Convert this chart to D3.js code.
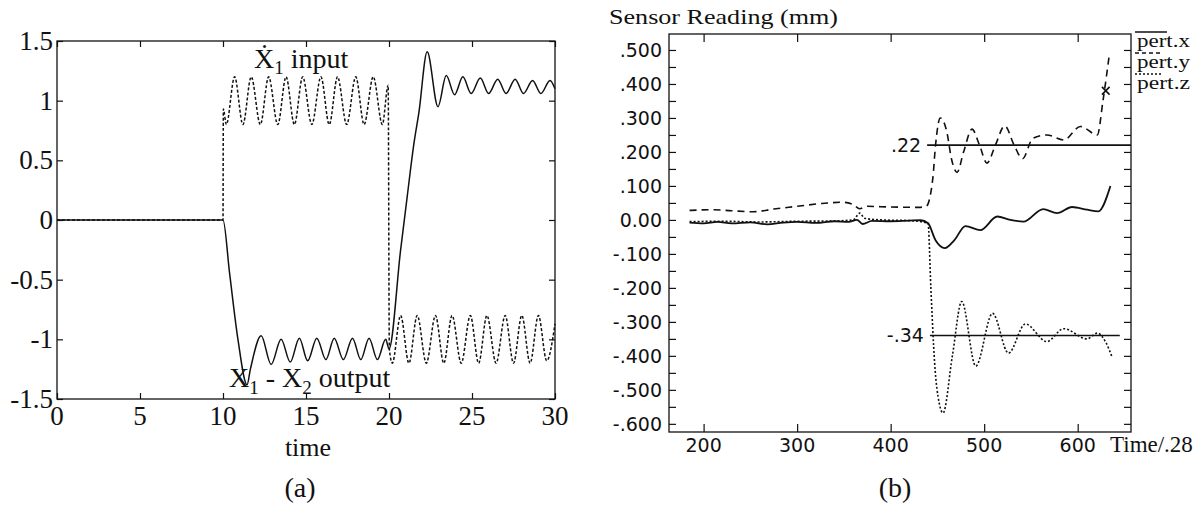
<!DOCTYPE html>
<html>
<head>
<meta charset="utf-8">
<script src="https://cdn.jsdelivr.net/npm/d3@7"></script>
<style>
  body { margin: 0; background: #fff; }
  svg { display: block; }
</style>
</head>
<body>
<div id="chart"></div>
<script>
// ---- panel (a) data ----
let timeTicksA = [0, 5, 10, 15, 20, 25, 30]
let valueTicksA = [-1.5, -1, -0.5, 0, 0.5, 1, 1.5]

// X1 input (dotted)
let inputA = [
  [0, 0], [10, 0], [10.02, 0.93], [10.2, 0.8], [10.7, 1.2], [11.2, 0.8], [11.7, 1.2],
  [12.25, 0.8], [12.75, 1.2], [13.3, 0.8], [13.8, 1.2], [14.3, 0.8], [14.8, 1.2],
  [15.35, 0.8], [15.9, 1.2], [16.4, 0.8], [16.9, 1.2], [17.45, 0.8], [18.0, 1.2],
  [18.5, 0.8], [19.05, 1.2], [19.6, 0.8], [19.95, 1.13], [20.02, -1.08], [20.2, -1.2],
  [20.7, -0.8], [21.2, -1.2], [21.7, -0.8], [22.25, -1.2], [22.8, -0.8], [23.3, -1.2],
  [23.8, -0.8], [24.35, -1.2], [24.9, -0.8], [25.4, -1.2], [25.9, -0.8], [26.45, -1.2],
  [27.0, -0.8], [27.5, -1.2], [28.0, -0.8], [28.5, -1.2], [29.0, -0.8], [29.5, -1.18], [30, -0.87]
]

// X1 - X2 output (solid)
let outputA = [
  [0, 0], [10, 0], [10.4, -0.45], [10.9, -1.0], [11.45, -1.38], [11.65, -1.25], [12.3, -0.97],
  [12.9, -1.21], [13.5, -1.0], [14.05, -1.19], [14.6, -0.99], [15.1, -1.18], [15.65, -0.99],
  [16.2, -1.17], [16.7, -0.99], [17.25, -1.17], [17.8, -0.99], [18.3, -1.17], [18.8, -0.99],
  [19.3, -1.17], [19.8, -1.0], [20.0, -1.08], [20.7, -0.25], [21.1, 0.2], [21.5, 0.64],
  [21.8, 0.9], [22.3, 1.41], [22.95, 0.95], [23.45, 1.21], [23.95, 1.05], [24.45, 1.2],
  [24.95, 1.06], [25.5, 1.19], [26.0, 1.06], [26.55, 1.18], [27.05, 1.06], [27.6, 1.18],
  [28.1, 1.06], [28.65, 1.17], [29.15, 1.06], [29.7, 1.17], [30, 1.1]
]

// ---- panel (b) data ----
let timeTicksB = [200, 300, 400, 500, 600]
let readingTicksB = [0.5, 0.4, 0.3, 0.2, 0.1, 0, -0.1, -0.2, -0.3, -0.4, -0.5, -0.6]
let readingLabelsB = ['.500', '.400', '.300', '.200', '.100', '0.00', '-.100', '-.200', '-.300', '-.400', '-.500', '-.600']
let legendNames = ['pert.x', 'pert.y', 'pert.z']

let pertX = [
  [185, -0.008], [200, -0.01], [215, -0.006], [230, -0.01], [250, -0.007], [268, -0.013],
  [285, -0.008], [300, -0.006], [320, -0.009], [340, -0.004], [355, -0.006], [364, 0.0],
  [370, -0.012], [380, -0.003], [400, -0.004], [420, -0.002], [432, -0.001], [440, -0.01],
  [448, -0.06], [458, -0.083], [468, -0.06], [480, -0.018], [496, -0.03], [514, 0.01],
  [528, 0.0], [542, -0.005], [563, 0.032], [578, 0.02], [594, 0.038], [610, 0.03],
  [622, 0.025], [635, 0.1]
]

let pertY = [
  [185, 0.028], [210, 0.03], [230, 0.027], [253, 0.024], [275, 0.032], [300, 0.04],
  [325, 0.048], [349, 0.052], [360, 0.045], [367, 0.033], [375, 0.04], [400, 0.038],
  [430, 0.037], [438, 0.04], [445, 0.12], [448, 0.22], [453, 0.3], [460, 0.26], [465, 0.18],
  [471, 0.14], [478, 0.2], [487, 0.267], [495, 0.22], [503, 0.167], [512, 0.22], [522, 0.277],
  [532, 0.22], [541, 0.18], [552, 0.24], [567, 0.25], [585, 0.235], [603, 0.275],
  [621, 0.25], [627, 0.35], [634, 0.49]
]

let pertZ = [
  [185, -0.005], [220, -0.004], [260, -0.006], [300, -0.004], [340, -0.003], [360, 0.0],
  [367, 0.02], [372, 0.005], [390, 0.0], [420, -0.002], [440, -0.01], [443, -0.2],
  [447, -0.42], [452, -0.54], [456, -0.568], [466, -0.4], [476, -0.24], [491, -0.43],
  [509, -0.275], [526, -0.392], [544, -0.306], [567, -0.358], [585, -0.32], [610, -0.35],
  [621, -0.333], [630, -0.36], [637, -0.405]
]

let refLevels = [
  { label: '.22', value: 0.22, start: 439, end: 657 },
  { label: '-.34', value: -0.34, start: 442, end: 645 }
]
let markerB = [[630, 0.38]]

// ---- drawing ----
let width = 1203
let height = 508
let ink = '#111'
let serif = '"Liberation Serif", "Times New Roman", serif'
let sans = '"DejaVu Sans", sans-serif'

let svg = d3.select('#chart')
  .append('svg')
  .attr('width', width)
  .attr('height', height)

// ===== panel (a) =====
let xA = d3.scaleLinear().domain([0, 30]).range([57, 555])
let yA = d3.scaleLinear().domain([-1.5, 1.5]).range([399, 41])

let gA = svg.append('g')

gA.append('rect')
  .attr('x', xA(0))
  .attr('y', yA(1.5))
  .attr('width', xA(30) - xA(0))
  .attr('height', yA(-1.5) - yA(1.5))
  .attr('fill', 'none')
  .attr('stroke', ink)
  .attr('stroke-width', 1.3)

// inward ticks on all four sides
gA.append('g')
  .attr('transform', `translate(0,${yA(-1.5)})`)
  .call(d3.axisBottom(xA).tickValues(timeTicksA).tickSize(-6).tickFormat(''))
gA.append('g')
  .attr('transform', `translate(0,${yA(1.5)})`)
  .call(d3.axisTop(xA).tickValues(timeTicksA).tickSize(-6).tickFormat(''))
gA.append('g')
  .attr('transform', `translate(${xA(0)},0)`)
  .call(d3.axisLeft(yA).tickValues(valueTicksA).tickSize(-6).tickFormat(''))
gA.append('g')
  .attr('transform', `translate(${xA(30)},0)`)
  .call(d3.axisRight(yA).tickValues(valueTicksA).tickSize(-6).tickFormat(''))
gA.selectAll('.domain').remove()
gA.selectAll('.tick line').attr('stroke', ink).attr('stroke-width', 1.2)

gA.selectAll('.x-label')
  .data(timeTicksA)
  .enter()
  .append('text')
  .attr('class', 'x-label')
  .attr('x', d => xA(d))
  .attr('y', 425)
  .attr('text-anchor', 'middle')
  .attr('font-family', serif)
  .attr('font-size', 27)
  .attr('fill', ink)
  .text(d => d)

gA.selectAll('.y-label')
  .data(valueTicksA)
  .enter()
  .append('text')
  .attr('class', 'y-label')
  .attr('x', 53)
  .attr('y', d => yA(d) + 9)
  .attr('text-anchor', 'end')
  .attr('font-family', serif)
  .attr('font-size', 27)
  .attr('fill', ink)
  .text(d => d)

let lineA = d3.line()
  .x(d => xA(d[0]))
  .y(d => yA(d[1]))
  .curve(d3.curveMonotoneX)

gA.append('path')
  .datum(inputA)
  .attr('d', lineA)
  .attr('fill', 'none')
  .attr('stroke', ink)
  .attr('stroke-width', 1.5)
  .attr('stroke-dasharray', '3,2')

gA.append('path')
  .datum(outputA)
  .attr('d', lineA)
  .attr('fill', 'none')
  .attr('stroke', ink)
  .attr('stroke-width', 1.5)

// curve labels
let inLabel = gA.append('text')
  .attr('x', 254)
  .attr('y', 68)
  .attr('font-family', serif)
  .attr('font-size', 28)
  .attr('fill', ink)
inLabel.append('tspan').text('\u1E8A')
inLabel.append('tspan').attr('font-size', 19).attr('dy', 6).text('1')
inLabel.append('tspan').attr('dy', -6).text(' input')

let outLabel = gA.append('text')
  .attr('x', 229)
  .attr('y', 387)
  .attr('font-family', serif)
  .attr('font-size', 28)
  .attr('fill', ink)
outLabel.append('tspan').text('X')
outLabel.append('tspan').attr('font-size', 19).attr('dy', 7).text('1')
outLabel.append('tspan').attr('dy', -7).text(' - X')
outLabel.append('tspan').attr('font-size', 19).attr('dy', 7).text('2')
outLabel.append('tspan').attr('dy', -7).text(' output')

gA.append('text')
  .attr('x', 308)
  .attr('y', 456)
  .attr('text-anchor', 'middle')
  .attr('font-family', serif)
  .attr('font-size', 26)
  .attr('fill', ink)
  .text('time')

gA.append('text')
  .attr('x', 300)
  .attr('y', 497)
  .attr('text-anchor', 'middle')
  .attr('font-family', serif)
  .attr('font-size', 28)
  .attr('fill', ink)
  .text('(a)')

// ===== panel (b) =====
let xB = d3.scaleLinear().domain([163, 657]).range([669, 1131])
let yB = d3.scaleLinear().domain([-0.624, 0.547]).range([432, 34])

let gB = svg.append('g')

gB.append('rect')
  .attr('x', xB(163))
  .attr('y', yB(0.547))
  .attr('width', xB(657) - xB(163))
  .attr('height', yB(-0.624) - yB(0.547))
  .attr('fill', 'none')
  .attr('stroke', ink)
  .attr('stroke-width', 1.3)

let minorB = d3.range(-12, 11).map(i => i * 0.05)

gB.append('g')
  .attr('transform', `translate(0,${yB(-0.624)})`)
  .call(d3.axisBottom(xB).tickValues(timeTicksB).tickSize(-8).tickFormat(''))
gB.append('g')
  .attr('transform', `translate(0,${yB(0.547)})`)
  .call(d3.axisTop(xB).tickValues(timeTicksB).tickSize(-8).tickFormat(''))
gB.append('g')
  .attr('transform', `translate(${xB(163)},0)`)
  .call(d3.axisLeft(yB).tickValues(minorB).tickSize(-7).tickFormat(''))
gB.append('g')
  .attr('transform', `translate(${xB(657)},0)`)
  .call(d3.axisRight(yB).tickValues(minorB).tickSize(-7).tickFormat(''))
gB.selectAll('.domain').remove()
gB.selectAll('.tick line').attr('stroke', ink).attr('stroke-width', 1.2)

gB.selectAll('.x-label')
  .data(timeTicksB)
  .enter()
  .append('text')
  .attr('class', 'x-label')
  .attr('x', d => xB(d))
  .attr('y', 452)
  .attr('text-anchor', 'middle')
  .attr('font-family', sans)
  .attr('font-size', 19)
  .attr('fill', ink)
  .text(d => d)

gB.selectAll('.y-label')
  .data(readingTicksB)
  .enter()
  .append('text')
  .attr('class', 'y-label')
  .attr('x', 662)
  .attr('y', d => yB(d) + 7)
  .attr('text-anchor', 'end')
  .attr('font-family', sans)
  .attr('font-size', 19)
  .attr('fill', ink)
  .text((d, i) => readingLabelsB[i])

gB.append('text')
  .attr('x', 609)
  .attr('y', 24)
  .attr('font-family', serif)
  .attr('font-size', 22)
  .attr('textLength', 229)
  .attr('lengthAdjust', 'spacingAndGlyphs')
  .attr('fill', ink)
  .text('Sensor Reading (mm)')

gB.append('text')
  .attr('x', 1110)
  .attr('y', 452)
  .attr('font-family', serif)
  .attr('font-size', 23)
  .attr('fill', ink)
  .text('Time/.28')

gB.append('text')
  .attr('x', 895)
  .attr('y', 497)
  .attr('text-anchor', 'middle')
  .attr('font-family', serif)
  .attr('font-size', 28)
  .attr('fill', ink)
  .text('(b)')

// reference levels
gB.selectAll('.ref-line')
  .data(refLevels)
  .enter()
  .append('line')
  .attr('class', 'ref-line')
  .attr('x1', d => xB(d.start))
  .attr('x2', d => xB(d.end))
  .attr('y1', d => yB(d.value))
  .attr('y2', d => yB(d.value))
  .attr('stroke', ink)
  .attr('stroke-width', 1.6)

gB.selectAll('.ref-label')
  .data(refLevels)
  .enter()
  .append('text')
  .attr('class', 'ref-label')
  .attr('x', d => xB(d.start) - 6)
  .attr('y', d => yB(d.value) + 7)
  .attr('text-anchor', 'end')
  .attr('font-family', sans)
  .attr('font-size', 19)
  .attr('fill', ink)
  .text(d => d.label)

let lineB = d3.line()
  .x(d => xB(d[0]))
  .y(d => yB(d[1]))
  .curve(d3.curveMonotoneX)

let seriesB = [
  { name: 'pert.x', values: pertX, dash: null, w: 1.8 },
  { name: 'pert.y', values: pertY, dash: '7,5', w: 1.6 },
  { name: 'pert.z', values: pertZ, dash: '2,2', w: 1.6 }
]

gB.selectAll('.series')
  .data(seriesB)
  .enter()
  .append('path')
  .attr('class', 'series')
  .attr('d', d => lineB(d.values))
  .attr('fill', 'none')
  .attr('stroke', ink)
  .attr('stroke-width', d => d.w)
  .attr('stroke-dasharray', d => d.dash)

gB.selectAll('.marker')
  .data(markerB)
  .enter()
  .append('path')
  .attr('class', 'marker')
  .attr('d', d3.symbol(d3.symbolX, 40))
  .attr('transform', d => `translate(${xB(d[0])},${yB(d[1])})`)
  .attr('fill', 'none')
  .attr('stroke', ink)
  .attr('stroke-width', 1.6)

// legend: each sample line sits just above its label
let legend = gB.selectAll('.legend')
  .data(seriesB)
  .enter()
  .append('g')
  .attr('class', 'legend')
  .attr('transform', (d, i) => `translate(1137,${47 + i * 21})`)

legend.append('line')
  .attr('x1', -2)
  .attr('x2', d => d.dash ? 24 : 30)
  .attr('y1', -15)
  .attr('y2', -15)
  .attr('stroke', ink)
  .attr('stroke-width', 1.5)
  .attr('stroke-dasharray', d => d.dash === '7,5' ? '4,3' : d.dash)

legend.append('text')
  .attr('font-family', serif)
  .attr('font-size', 18)
  .attr('textLength', 53)
  .attr('lengthAdjust', 'spacingAndGlyphs')
  .attr('fill', ink)
  .text((d, i) => legendNames[i])
</script>
</body>
</html>
